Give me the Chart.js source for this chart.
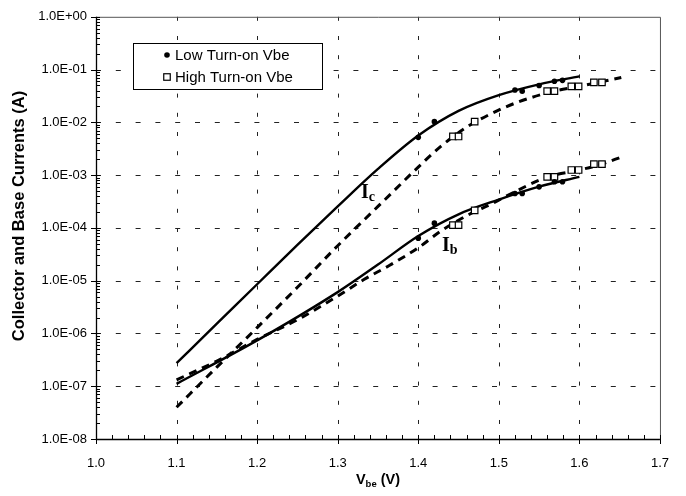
<!DOCTYPE html>
<html>
<head>
<meta charset="utf-8">
<script src="https://cdn.jsdelivr.net/npm/chart.js@4.4.1/dist/chart.umd.min.js"></script>
<style>
html, body { margin: 0; padding: 0; background: #fff; }
</style>
</head>
<body>
<canvas id="chart" width="686" height="496"></canvas>
<script>
// axis ticks
const xTickValues = [1.0, 1.1, 1.2, 1.3, 1.4, 1.5, 1.6, 1.7];
const xTickLabels = ['1.0', '1.1', '1.2', '1.3', '1.4', '1.5', '1.6', '1.7'];
const yTickValues = [1e-8, 1e-7, 1e-6, 1e-5, 1e-4, 1e-3, 1e-2, 1e-1, 1];
const yTickLabels = ['1.0E-08', '1.0E-07', '1.0E-06', '1.0E-05', '1.0E-04', '1.0E-03', '1.0E-02', '1.0E-01', '1.0E+00'];

// low turn-on: solid curves (Vbe, A)
const lowIcLineV = [1.10, 1.15, 1.20, 1.25, 1.30, 1.35, 1.40, 1.45, 1.50, 1.55, 1.60];
const lowIcLineA = [2.74e-7, 1.53e-6, 8.55e-6, 4.77e-5, 2.55e-4, 1.31e-3, 5.63e-3, 1.65e-2, 3.28e-2, 5.26e-2, 7.43e-2];
const lowIbLineV = [1.10, 1.20, 1.30, 1.35, 1.40, 1.45, 1.50, 1.55, 1.60];
const lowIbLineA = [1.11e-7, 7.38e-7, 6.07e-6, 2.02e-5, 7.02e-5, 1.81e-4, 3.44e-4, 6.03e-4, 9.27e-4];

// low turn-on: measured dots
const lowPtsV = [1.400, 1.420, 1.520, 1.529, 1.550, 1.569, 1.579];
const lowIcPtsA = [5.2e-3, 1.03e-2, 4.1e-2, 3.9e-2, 5.0e-2, 6.0e-2, 6.25e-2];
const lowIbPtsA = [6.4e-5, 1.23e-4, 4.5e-4, 4.5e-4, 6.0e-4, 7.5e-4, 7.5e-4];

// high turn-on: dashed curves
const highIcLineV = [1.10, 1.15, 1.20, 1.25, 1.30, 1.35, 1.40, 1.428, 1.459, 1.49, 1.524, 1.569, 1.60, 1.652];
const highIcLineA = [4.0e-8, 2.3e-7, 1.29e-6, 7.5e-6, 4.6e-5, 2.55e-4, 1.42e-3, 3.5e-3, 7.9e-3, 1.45e-2, 2.43e-2, 3.9e-2, 4.8e-2, 7.1e-2];
const highIbLineV = [1.10, 1.15, 1.20, 1.25, 1.30, 1.333, 1.364, 1.40, 1.428, 1.461, 1.492, 1.508, 1.561, 1.60, 1.628, 1.652];
const highIbLineA = [1.32e-7, 3.0e-7, 7.7e-7, 1.82e-6, 5.1e-6, 1.06e-5, 1.94e-5, 4.2e-5, 8.7e-5, 1.73e-4, 2.9e-4, 3.9e-4, 9.3e-4, 1.25e-3, 1.62e-3, 2.2e-3];

// high turn-on: measured squares
const highPtsV = [1.443, 1.450, 1.470, 1.560, 1.569, 1.590, 1.599, 1.618, 1.628];
const highIcPtsA = [5.4e-3, 5.4e-3, 1.03e-2, 3.9e-2, 3.9e-2, 4.8e-2, 4.8e-2, 5.7e-2, 5.7e-2];
const highIbPtsA = [1.13e-4, 1.13e-4, 2.15e-4, 9.3e-4, 9.3e-4, 1.25e-3, 1.25e-3, 1.62e-3, 1.62e-3];

const zip = (xs, ys) => xs.map((x, i) => ({ x: x, y: ys[i] }));

const dotStyle = { showLine: false, pointStyle: 'circle', pointRadius: 2.8, backgroundColor: '#000', borderColor: '#000', borderWidth: 0 };
const squareStyle = { showLine: false, pointStyle: 'rect', pointRadius: 4.6, backgroundColor: '#fff', borderColor: '#000', borderWidth: 1.2 };
const solidStyle = { showLine: true, pointRadius: 0, borderColor: '#000', borderWidth: 2.4, cubicInterpolationMode: 'monotone', fill: false };
const dashStyle = { showLine: true, pointRadius: 0, borderColor: '#000', borderWidth: 3, borderDash: [8, 6], cubicInterpolationMode: 'monotone', fill: false };

const datasets = [
    { label: 'Low Turn-on Vbe', data: zip(lowPtsV, lowIcPtsA), ...dotStyle, legend: true },
    { label: 'Low Turn-on Vbe', data: zip(lowPtsV, lowIbPtsA), ...dotStyle },
    { label: 'High Turn-on Vbe', data: zip(highPtsV, highIcPtsA), ...squareStyle, legend: true },
    { label: 'High Turn-on Vbe', data: zip(highPtsV, highIbPtsA), ...squareStyle },
    { label: 'Ic low', data: zip(lowIcLineV, lowIcLineA), ...solidStyle },
    { label: 'Ib low', data: zip(lowIbLineV, lowIbLineA), ...solidStyle },
    { label: 'Ic high', data: zip(highIcLineV, highIcLineA), ...dashStyle },
    { label: 'Ib high', data: zip(highIbLineV, highIbLineA), ...dashStyle }
];

// grid, frame, tick marks
const framePlugin = {
    id: 'frame',
    beforeDatasetsDraw(chart) {
        const { ctx, chartArea: a, scales: { x, y } } = chart;
        ctx.save();
        ctx.strokeStyle = '#222';
        ctx.lineWidth = 1;
        ctx.setLineDash([5, 14.8]);
        yTickValues.slice(1, -1).forEach(v => {
            const py = Math.round(y.getPixelForValue(v)) + 0.5;
            ctx.beginPath(); ctx.moveTo(a.left, py); ctx.lineTo(a.right, py); ctx.stroke();
        });
        ctx.setLineDash([4, 15.2]);
        xTickValues.slice(1, -1).forEach(v => {
            const px = Math.round(x.getPixelForValue(v)) + 0.5;
            ctx.beginPath(); ctx.moveTo(px, a.top); ctx.lineTo(px, a.bottom); ctx.stroke();
        });
        ctx.setLineDash([]);
        // box
        ctx.strokeStyle = '#555';
        ctx.beginPath();
        ctx.moveTo(a.left, a.top + 0.5); ctx.lineTo(a.right + 0.5, a.top + 0.5); ctx.lineTo(a.right + 0.5, a.bottom);
        ctx.stroke();
        ctx.strokeStyle = '#000';
        ctx.lineWidth = 1.3;
        ctx.beginPath();
        ctx.moveTo(a.left + 0.5, a.top); ctx.lineTo(a.left + 0.5, a.bottom + 0.5); ctx.lineTo(a.right, a.bottom + 0.5);
        ctx.stroke();
        // y ticks
        ctx.lineWidth = 1;
        ctx.beginPath();
        for (let e = -8; e <= 0; e++) {
            const py = Math.round(y.getPixelForValue(Math.pow(10, e))) + 0.5;
            ctx.moveTo(a.left - 5, py); ctx.lineTo(a.left + 4, py);
            if (e < 0) {
                for (let m = 2; m <= 9; m++) {
                    const pm = Math.round(y.getPixelForValue(m * Math.pow(10, e))) + 0.5;
                    ctx.moveTo(a.left, pm); ctx.lineTo(a.left + 4, pm);
                }
            }
        }
        // x ticks
        for (let k = 0; k <= 35; k++) {
            const v = 1.0 + k * 0.02;
            const px = Math.round(x.getPixelForValue(v)) + 0.5;
            if (k % 5 === 0) { ctx.moveTo(px, a.bottom - 4); ctx.lineTo(px, a.bottom + 5); }
            else { ctx.moveTo(px, a.bottom - 4); ctx.lineTo(px, a.bottom); }
        }
        ctx.stroke();
        ctx.restore();
    },
    afterDraw(chart) {
        const { ctx, chartArea: a } = chart;
        ctx.save();
        ctx.fillStyle = '#000';
        ctx.textBaseline = 'middle';

        // axis titles
        ctx.font = 'bold 16.5px "Liberation Sans"';
        ctx.textAlign = 'center';
        ctx.save();
        ctx.translate(19, 216);
        ctx.rotate(-Math.PI / 2);
        ctx.fillText('Collector and Base Currents (A)', 0, 0);
        ctx.restore();

        const tx = (a.left + a.right) / 2, ty = 480;
        ctx.textAlign = 'left';
        const big = 'bold 14.5px "Liberation Sans"', small = 'bold 9.5px "Liberation Sans"';
        ctx.font = big; const w1 = ctx.measureText('V').width, w3 = ctx.measureText(' (V)').width;
        ctx.font = small; const w2 = ctx.measureText('be').width;
        let sx = tx - (w1 + w2 + w3) / 2;
        ctx.font = big; ctx.fillText('V', sx, ty);
        ctx.font = small; ctx.fillText('be', sx + w1, ty + 4);
        ctx.font = big; ctx.fillText(' (V)', sx + w1 + w2, ty);

        // curve labels
        ctx.textBaseline = 'alphabetic';
        const curveLabel = (main, sub, px, py) => {
            ctx.font = 'bold 20px "Liberation Serif"';
            ctx.fillText(main, px, py);
            const w = ctx.measureText(main).width;
            ctx.font = 'bold 14px "Liberation Serif"';
            ctx.fillText(sub, px + w, py + 3);
        };
        curveLabel('I', 'c', 361, 198);
        curveLabel('I', 'b', 442, 251);

        // legend
        const lx = 133, ly = 43, lw = 189, lh = 46;
        ctx.fillStyle = '#fff';
        ctx.fillRect(lx, ly, lw, lh);
        ctx.strokeStyle = '#000';
        ctx.lineWidth = 1;
        ctx.strokeRect(lx + 0.5, ly + 0.5, lw, lh);
        const entries = chart.data.datasets.filter(d => d.legend);
        entries.forEach((d, i) => {
            const cy = ly + 12 + i * 22;
            const mx = lx + 34;
            if (d.pointStyle === 'rect') {
                const s = d.pointRadius * Math.SQRT1_2;
                ctx.fillStyle = '#fff';
                ctx.fillRect(mx - s, cy - s, 2 * s, 2 * s);
                ctx.lineWidth = d.borderWidth;
                ctx.strokeRect(mx - s, cy - s, 2 * s, 2 * s);
            } else {
                ctx.fillStyle = '#000';
                ctx.beginPath(); ctx.arc(mx, cy, d.pointRadius, 0, Math.PI * 2); ctx.fill();
            }
            ctx.fillStyle = '#000';
            ctx.font = '15px "Liberation Sans"';
            ctx.textBaseline = 'middle';
            ctx.fillText(d.label, mx + 8, cy + 1);
        });
        ctx.restore();
    }
};

Chart.defaults.font.family = '"Liberation Sans"';
Chart.defaults.color = '#000';

new Chart(document.getElementById('chart'), {
    type: 'scatter',
    data: { datasets: datasets },
    options: {
        responsive: false,
        animation: false,
        events: [],
        layout: { padding: { top: 11, right: 19, left: 0, bottom: 0 } },
        plugins: { legend: { display: false }, tooltip: { enabled: false } },
        scales: {
            x: {
                type: 'linear', min: 1.0, max: 1.7,
                afterBuildTicks: s => { s.ticks = xTickValues.map(v => ({ value: v })); },
                afterFit: s => { s.height = 57; },
                ticks: { callback: (v, i) => xTickLabels[i], padding: 17, font: { size: 13 }, maxRotation: 0, autoSkip: false },
                grid: { display: false, drawTicks: false },
                border: { display: false }
            },
            y: {
                type: 'logarithmic', min: 1e-8, max: 1,
                afterBuildTicks: s => { s.ticks = yTickValues.map(v => ({ value: v })); },
                afterFit: s => { s.width = 96; },
                ticks: { callback: (v, i) => yTickLabels[i], padding: 9, font: { size: 13 }, autoSkip: false },
                grid: { display: false, drawTicks: false },
                border: { display: false }
            }
        }
    },
    plugins: [framePlugin]
});
</script>
</body>
</html>
